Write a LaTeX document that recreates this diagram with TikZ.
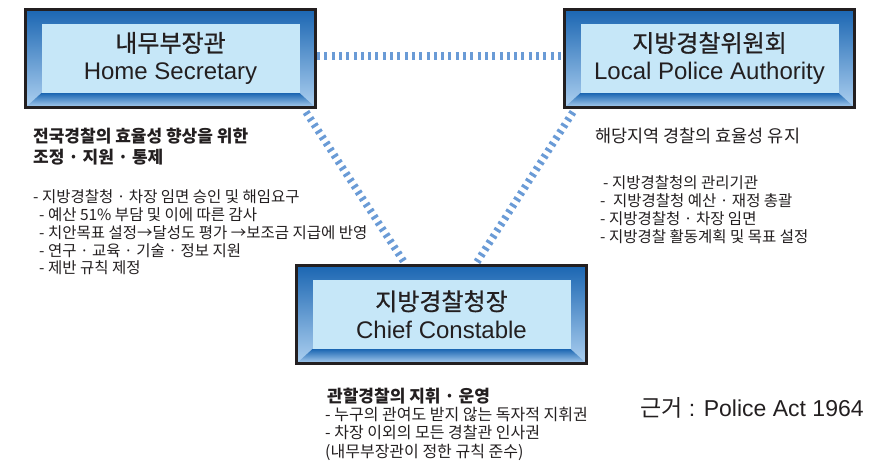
\documentclass[tikz,border=0pt]{standalone}
\usepackage{fontspec}
\setmainfont{Liberation Sans}
\newfontfamily\kr{Noto Sans CJK KR}
\newfontfamily\krtitle[FakeBold=0.8]{Noto Sans CJK KR}
\usetikzlibrary{positioning}

\definecolor{ink}{HTML}{231F20}
\definecolor{bevelDark}{HTML}{1B66B2}
\definecolor{bevelLight}{HTML}{ADD0F0}
\definecolor{panel}{HTML}{C6E7F8}
\definecolor{linkblue}{HTML}{6A9BD6}

\tikzset{
  office/.style={draw=ink, line width=3pt, minimum width=290pt, minimum height=98pt, inner sep=0pt,
    align=center, text=ink, font=\fontsize{24}{28}\selectfont,
    path picture={
      \shade[top color=bevelDark, bottom color=bevelLight] (path picture bounding box.south west) rectangle (path picture bounding box.north east);
      \shade[top color=bevelDark, bottom color=bevelLight] (path picture bounding box.south west) -- ([shift={(16pt,14.5pt)}]path picture bounding box.south west)
        -- ([shift={(-16pt,14.5pt)}]path picture bounding box.south east) -- (path picture bounding box.south east) -- cycle;
      \fill[panel] ([shift={(16pt,14.5pt)}]path picture bounding box.south west) rectangle ([shift={(-16pt,-14.5pt)}]path picture bounding box.north east);
    }},
  link/.style={draw=linkblue, line width=7.5pt, dash pattern=on 3pt off 4.3pt},
  note/.style={anchor=west, inner sep=0pt, text=ink, text height=12pt, text depth=2pt, font=\kr\fontsize{15.5}{18}\selectfont},
  notehead/.style={note, font=\kr\bfseries\fontsize{17}{18}\selectfont}
}

\begin{document}
\begin{tikzpicture}[x=1pt, y=-1pt]
  \useasboundingbox (0,0) rectangle (877,464);

  \node[office, name=hs] at (170.5,58.5) {{\krtitle 내무부장관}\\Home Secretary};
  \node[office, name=lpa, right=246pt of hs] {{\krtitle 지방경찰위원회}\\Local Police Authority};
  \node[office, name=cc] at (441.5,314.5) {{\krtitle 지방경찰청장}\\Chief Constable};

  \draw[link] ([yshift=2.5pt]hs.east) -- ([yshift=2.5pt]lpa.west);
  \draw[link] ([xshift=-11pt,yshift=-3pt]hs.south east) -- ([xshift=109pt,yshift=2pt]cc.north west);
  \draw[link] ([xshift=10pt,yshift=-3pt]lpa.south west) -- ([xshift=-111pt,yshift=2pt]cc.north east);

  % home secretary
  \node[notehead, name=hsHead] at (33,137) {전국경찰의 효율성 향상을 위한};
  \node[notehead, name=hsHeadB] at (33,158) {조정 · 지원 · 통제};
  \node[note, name=hsA] at (33,197) {- 지방경찰청 · 차장 임면 승인 및 해임요구};
  \node[note, name=hsB] at (39,215) {- 예산 51\% 부담 및 이에 따른 감사};
  \node[note, name=hsC] at (39,233) {- 치안목표 설정→달성도 평가 →보조금 지급에 반영};
  \node[note, name=hsD] at (39,251) {- 연구 · 교육 · 기술 · 정보 지원};
  \node[note, name=hsE] at (39,268) {- 제반 규칙 제정};

  % local police authority
  \node[note, name=lpaHead, font=\kr\fontsize{17.5}{18}\selectfont] at (595,137) {해당지역 경찰의 효율성 유지};
  \node[note, name=lpaA] at (603,183) {- 지방경찰청의 관리기관};
  \node[note, name=lpaB] at (600,201) {-\hspace{4pt} 지방경찰청 예산 · 재정 총괄};
  \node[note, name=lpaC] at (600,219) {- 지방경찰청 · 차장 임면};
  \node[note, name=lpaD] at (600,237) {- 지방경찰 활동계획 및 목표 설정};

  % chief constable
  \node[notehead, name=ccHead] at (327,397) {관할경찰의 지휘 · 운영};
  \node[note, name=ccA, font=\kr\fontsize{16}{18}\selectfont] at (325,415) {- 누구의 관여도 받지 않는 독자적 지휘권};
  \node[note, name=ccB, font=\kr\fontsize{16}{18}\selectfont] at (325,433) {- 차장 이외의 모든 경찰관 인사권};
  \node[note, name=ccC, font=\kr\fontsize{16}{18}\selectfont] at (325,452) {(내무부장관이 정한 규칙 준수)};

  \node[anchor=west, inner sep=0pt, text=ink, font=\fontsize{23}{26}\selectfont, name=act] at (640,408) {{\kr 근거} : Police Act 1964};
\end{tikzpicture}
\end{document}
